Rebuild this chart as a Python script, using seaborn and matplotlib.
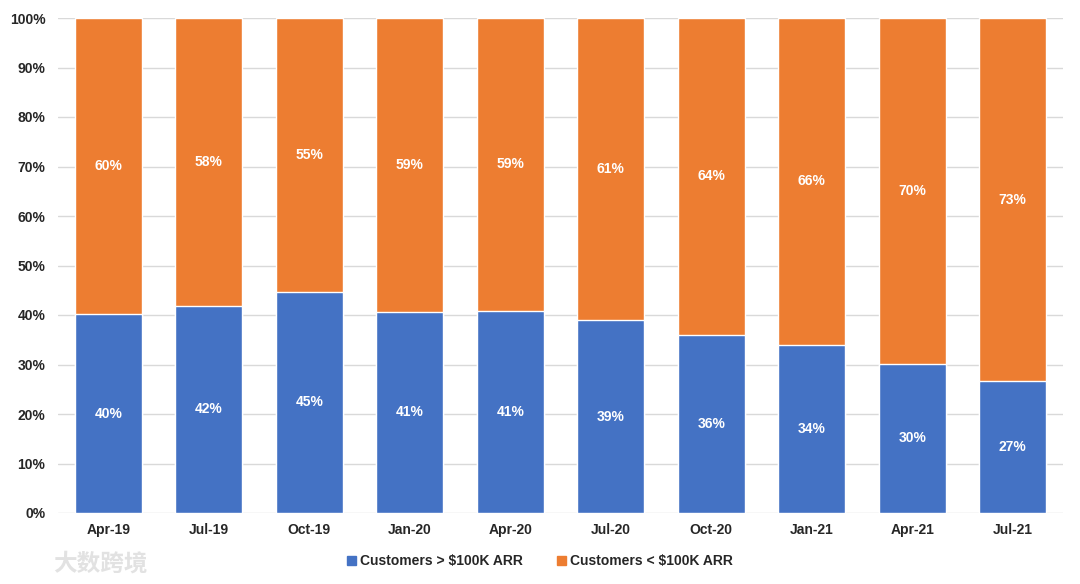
import matplotlib
matplotlib.use("Agg")
import matplotlib.pyplot as plt
import pandas as pd
import seaborn as sns
from matplotlib.patches import Patch

quarters = ["Apr-19", "Jul-19", "Oct-19", "Jan-20", "Apr-20",
            "Jul-20", "Oct-20", "Jan-21", "Apr-21", "Jul-21"]
# share of customers above $100K ARR (bar heights)
above_share = [40.2, 41.9, 44.7, 40.7, 40.9, 38.9, 36.0, 34.0, 30.2, 26.6]
above_labels = [40, 42, 45, 41, 41, 39, 36, 34, 30, 27]
below_labels = [60, 58, 55, 59, 59, 61, 64, 66, 70, 73]

BLUE = "#4472C4"
ORANGE = "#ED7D31"


def main():
    sns.set_theme(style="white")
    plt.rcParams["font.family"] = ["Liberation Sans", "DejaVu Sans"]

    df = pd.DataFrame({"quarter": quarters, "above": above_share})
    df["total"] = 100.0

    fig = plt.figure(figsize=(10.8, 5.84), dpi=100)
    ax = fig.add_axes([58 / 1080, 1 - 513 / 584, 1005 / 1080, 495 / 584])

    sns.barplot(data=df, x="quarter", y="total", color=ORANGE, width=0.67,
                saturation=1, ax=ax, zorder=2)
    sns.barplot(data=df, x="quarter", y="above", color=BLUE, width=0.67,
                saturation=1, ax=ax, zorder=3)

    for i, (a, la, lb) in enumerate(zip(above_share, above_labels, below_labels)):
        ax.text(i, a / 2, f"{la}%", ha="center", va="center", color="white",
                fontsize=10, fontweight="bold", zorder=4)
        ax.text(i, a + (100 - a) / 2, f"{lb}%", ha="center", va="center",
                color="white", fontsize=10, fontweight="bold", zorder=4)

    ax.set_xlim(-0.5, len(quarters) - 0.5)
    ax.set_ylim(0, 100)
    ax.set_yticks(range(0, 101, 10))
    ax.set_yticklabels([f"{v}%" for v in range(0, 101, 10)])
    ax.yaxis.grid(True, color="#D9D9D9", linewidth=1, zorder=0)
    ax.set_axisbelow(True)
    ax.set_xlabel("")
    ax.set_ylabel("")
    for s in ax.spines.values():
        s.set_visible(False)
    ax.tick_params(axis="both", length=0, labelsize=10, colors="#262626")
    ax.tick_params(axis="y", pad=9)
    ax.tick_params(axis="x", pad=7)
    for lab in ax.get_xticklabels() + ax.get_yticklabels():
        lab.set_fontweight("bold")

    handles = [Patch(color=BLUE, label="Customers > $100K ARR"),
               Patch(color=ORANGE, label="Customers < $100K ARR")]
    fig.legend(handles=handles, loc="center", bbox_to_anchor=(0.5, 1 - 561 / 584),
               ncol=2, frameon=False, handlelength=0.6, handleheight=0.6,
               handletextpad=0.3, columnspacing=2.5,
               prop={"weight": "bold", "size": 10})

    # watermark
    fig.text(53 / 1080, 1 - 564 / 584, "大数跨境", color="#E2E2E2", fontsize=17,
             fontweight="bold", va="center", ha="left",
             family=["Noto Sans CJK SC", "DejaVu Sans"])

    fig.savefig("out.png", dpi=100)


if __name__ == "__main__":
    main()
